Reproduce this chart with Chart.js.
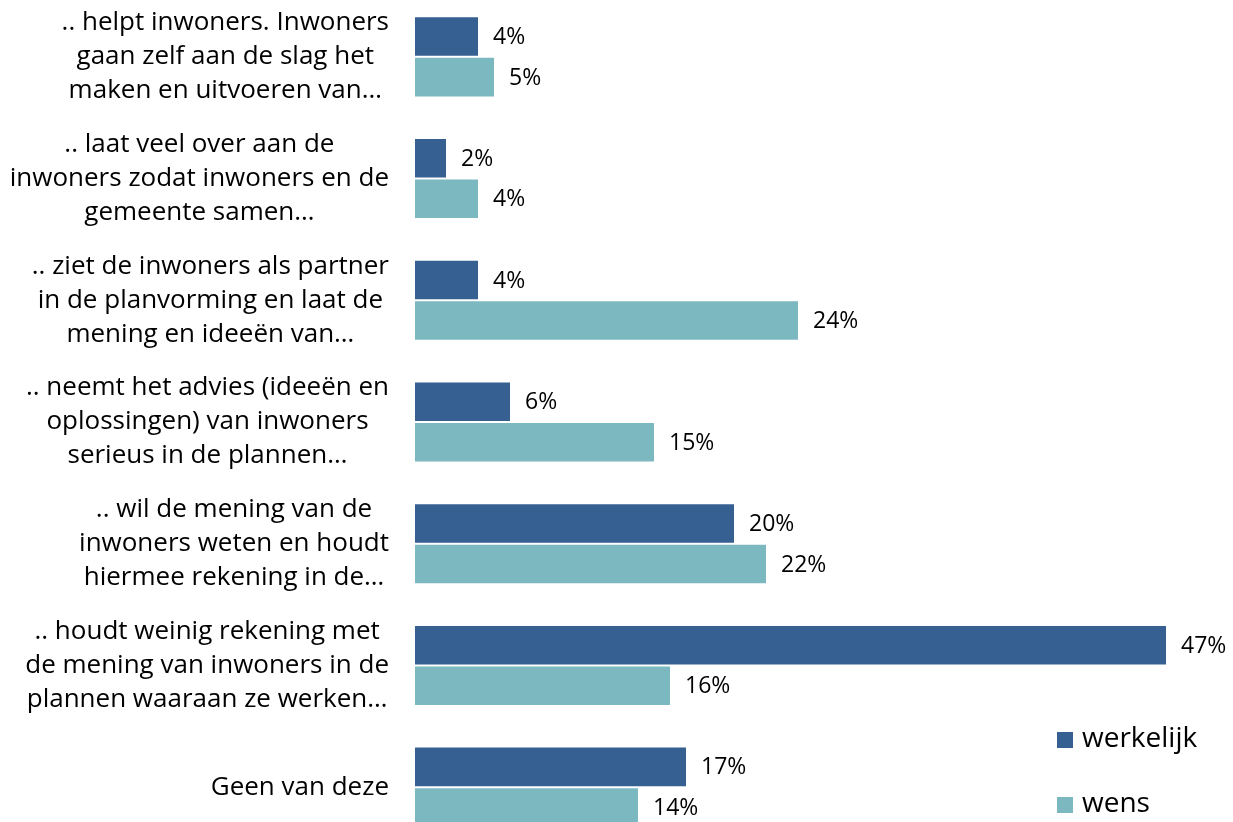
<!DOCTYPE html>
<html>
<head>
<meta charset="utf-8">
<script src="https://cdn.jsdelivr.net/npm/chart.js@4"></script>
<style>
  html, body { margin: 0; padding: 0; background: #fff; overflow: hidden; }
  #wrap { position: absolute; left: 0; top: -4px; width: 1233px; height: 852px; }
</style>
</head>
<body>
<div id="wrap"><canvas id="chart"></canvas></div>
<script>
// Categories (multi-line labels as shown in the picture)
const categories = [
    ['.. helpt inwoners. Inwoners', 'gaan zelf aan de slag het', 'maken en uitvoeren van…'],
    ['.. laat veel over aan de', 'inwoners zodat inwoners en de', 'gemeente samen…'],
    ['.. ziet de inwoners als partner', 'in de planvorming en laat de', 'mening en ideeën van…'],
    ['.. neemt het advies (ideeën en', 'oplossingen) van inwoners', 'serieus in de plannen…'],
    ['.. wil de mening van de', 'inwoners weten en houdt', 'hiermee rekening in de…'],
    ['.. houdt weinig rekening met', 'de mening van inwoners in de', 'plannen waaraan ze werken…'],
    ['Geen van deze']
];

// Series values (percent)
const werkelijk = [4, 2, 4, 6, 20, 47, 17];
const wens = [5, 4, 24, 15, 22, 16, 14];

const FONT = '"Open Sans", sans-serif';

// Draws the category labels: block right-aligned, lines centered inside the block
const categoryLabels = {
    id: 'categoryLabels',
    afterDraw(chart) {
        const ctx = chart.ctx;
        const yScale = chart.scales.y;
        const right = chart.chartArea.left - 26;
        const lineHeight = 34;
        ctx.save();
        ctx.font = '26px ' + FONT;
        ctx.fillStyle = '#000';
        ctx.textAlign = 'center';
        ctx.textBaseline = 'middle';
        categories.forEach((lines, i) => {
            const cy = yScale.getPixelForValue(i);
            const blockWidth = Math.max(...lines.map(l => ctx.measureText(l).width));
            const cx = right - blockWidth / 2;
            const top = cy - (lines.length - 1) * lineHeight / 2;
            lines.forEach((line, j) => {
                ctx.fillText(line, cx, top + j * lineHeight);
            });
        });
        ctx.restore();
    }
};

// Value labels at the end of each bar
const valueLabels = {
    id: 'valueLabels',
    afterDatasetsDraw(chart) {
        const ctx = chart.ctx;
        ctx.save();
        ctx.font = '23px ' + FONT;
        ctx.fillStyle = '#000';
        ctx.textAlign = 'left';
        ctx.textBaseline = 'middle';
        chart.data.datasets.forEach((ds, di) => {
            chart.getDatasetMeta(di).data.forEach((bar, i) => {
                ctx.fillText(ds.data[i] + '%', bar.x + 14, bar.y + 1);
            });
        });
        ctx.restore();
    }
};

// Legend in the lower right corner
const cornerLegend = {
    id: 'cornerLegend',
    afterDraw(chart) {
        const ctx = chart.ctx;
        ctx.save();
        ctx.font = '28px ' + FONT;
        ctx.textAlign = 'left';
        ctx.textBaseline = 'middle';
        const rows = [744, 809];
        chart.data.datasets.forEach((ds, i) => {
            const y = rows[i];
            ctx.fillStyle = ds.backgroundColor;
            ctx.fillRect(1057, y - 8, 16, 16);
            ctx.fillStyle = '#000';
            ctx.fillText(ds.label, 1082, y - 1);
        });
        ctx.restore();
    }
};

new Chart(document.getElementById('chart'), {
    type: 'bar',
    data: {
        labels: categories,
        datasets: [
            {
                label: 'werkelijk',
                data: werkelijk,
                backgroundColor: '#366092',
                borderColor: '#ffffff',
                borderWidth: 1
            },
            {
                label: 'wens',
                data: wens,
                backgroundColor: '#7bb8bf',
                borderColor: '#ffffff',
                borderWidth: 1
            }
        ]
    },
    options: {
        indexAxis: 'y',
        responsive: true,
        maintainAspectRatio: false,
        animation: false,
        layout: { padding: { left: 415, right: 18, top: 0, bottom: 0 } },
        datasets: {
            bar: { categoryPercentage: 0.666, barPercentage: 1 }
        },
        scales: {
            x: { display: false, min: 0, max: 50 },
            y: { display: false }
        },
        plugins: {
            legend: { display: false },
            tooltip: { enabled: false }
        }
    },
    plugins: [categoryLabels, valueLabels, cornerLegend]
});
</script>
</body>
</html>
